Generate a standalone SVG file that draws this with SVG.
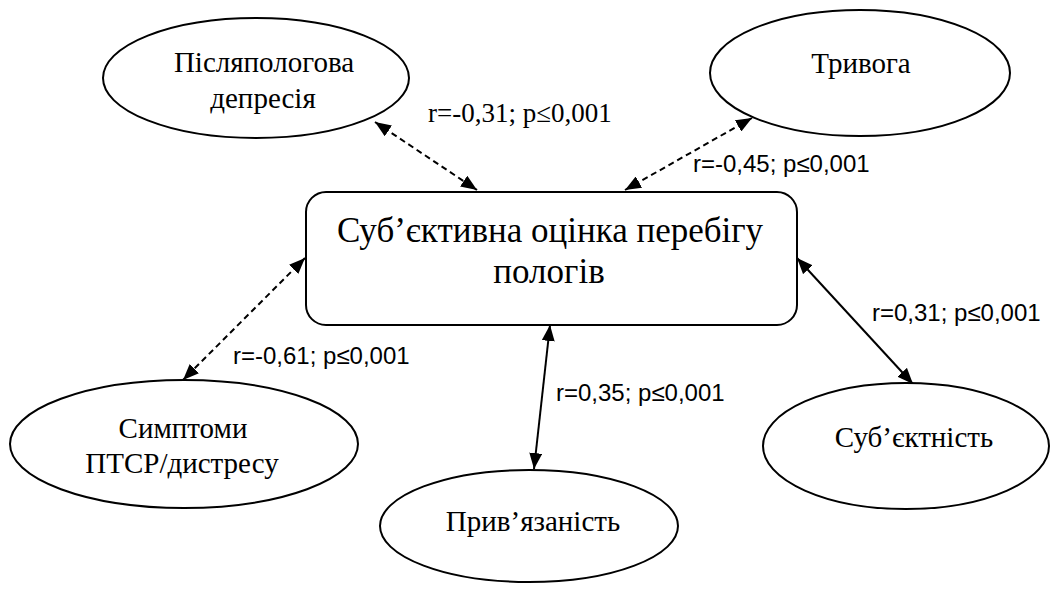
<svg xmlns="http://www.w3.org/2000/svg" width="1060" height="596" viewBox="0 0 1060 596">
<defs>
<style>
.node{fill:#fff;stroke:#000;stroke-width:2}
.t{font-family:'Liberation Serif','Times New Roman',serif;fill:#000;text-anchor:middle}
.e{font-size:29px}
.c{font-size:35px}
.lab{font-family:'Liberation Sans',Arial,sans-serif;font-size:24px;fill:#000}
.labs{font-family:'Liberation Serif','Times New Roman',serif;font-size:27px;fill:#000}
.ln{stroke:#000;stroke-width:2;fill:none;marker-start:url(#ah);marker-end:url(#ah)}
.d{stroke-dasharray:6 4}
</style>
<marker id="ah" viewBox="0 0 16 13" refX="16" refY="6.5" markerWidth="16" markerHeight="13" markerUnits="userSpaceOnUse" orient="auto-start-reverse">
<path d="M0,0 L16,6.5 L0,13 z" fill="#000"/>
</marker>
</defs>
<rect width="1060" height="596" fill="#fff"/>
<g id="connectors">
<line class="ln d" x1="375" y1="122" x2="477" y2="190"/>
<line class="ln d" x1="752" y1="118" x2="625" y2="190"/>
<line class="ln d" x1="305" y1="258" x2="183" y2="380"/>
<line class="ln" x1="550" y1="325" x2="534" y2="469"/>
<line class="ln" x1="797" y1="258" x2="913" y2="384"/>
</g>
<g id="center">
<rect class="node" x="306" y="192" width="491" height="133" rx="20"/>
<text class="t c" x="550" y="242">Суб’єктивна оцінка перебігу</text>
<text class="t c" x="549" y="283">пологів</text>
</g>
<g id="postnatal">
<ellipse class="node" cx="256" cy="78" rx="153" ry="60"/>
<text class="t e" x="264" y="72">Післяпологова</text>
<text class="t e" x="263" y="108">депресія</text>
</g>
<g id="anxiety">
<ellipse class="node" cx="860" cy="73" rx="150" ry="63"/>
<text class="t e" x="861" y="73">Тривога</text>
</g>
<g id="ptsd">
<ellipse class="node" cx="184" cy="444" rx="174" ry="64"/>
<text class="t e" x="183" y="438">Симптоми</text>
<text class="t e" x="182" y="473">ПТСР/дистресу</text>
</g>
<g id="attachment">
<ellipse class="node" cx="529" cy="526" rx="149" ry="56"/>
<text class="t e" x="533" y="531">Прив’язаність</text>
</g>
<g id="agency">
<ellipse class="node" cx="906" cy="446" rx="143" ry="63"/>
<text class="t e" x="914" y="447">Суб’єктність</text>
</g>
<g id="labels">
<text class="labs" x="428" y="122">r=-0,31; p≤0,001</text>
<text class="lab" x="693" y="172">r=-0,45; p≤0,001</text>
<text class="lab" x="233" y="364">r=-0,61; p≤0,001</text>
<text class="lab" x="556" y="401">r=0,35; p≤0,001</text>
<text class="lab" x="872" y="321">r=0,31; p≤0,001</text>
</g>
</svg>
